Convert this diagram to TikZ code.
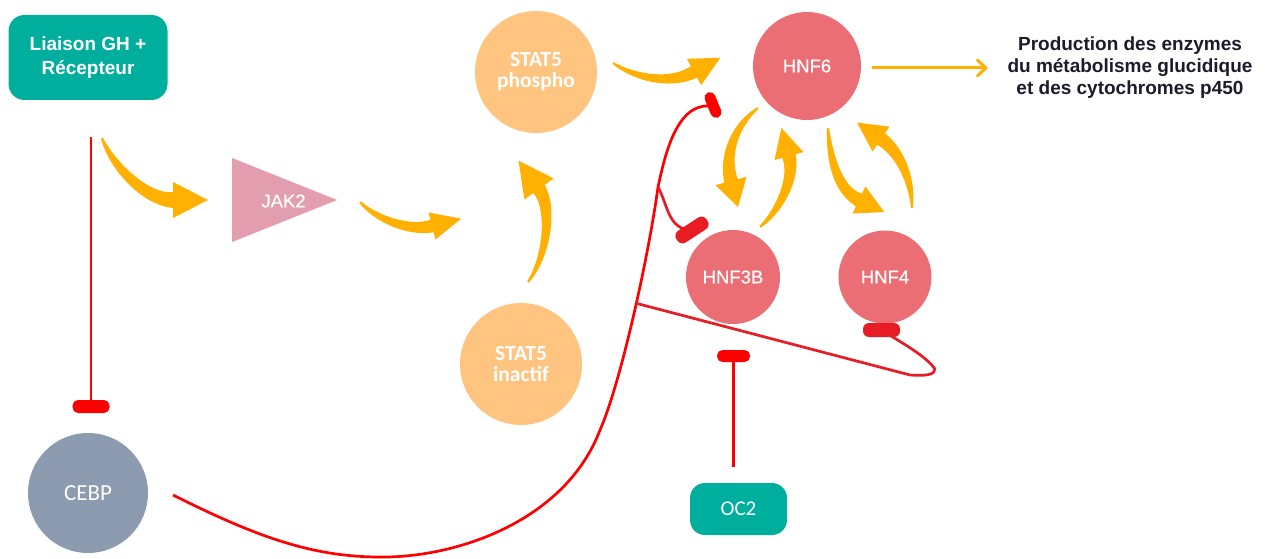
\documentclass[tikz,border=0pt]{standalone}
\usepackage{fontspec}
\setmainfont{Liberation Sans}
\newfontfamily\carl{Carlito}
\newfontfamily\semisans[FakeBold=0.6]{Liberation Sans}
\usetikzlibrary{calc,arrows.meta}
\definecolor{tealc}{HTML}{00AE9D}
\definecolor{cebpc}{HTML}{8C9BB0}
\definecolor{jakc}{HTML}{E29DAF}
\definecolor{statc}{HTML}{FFC480}
\definecolor{hnfc}{HTML}{EB6E74}
\definecolor{orc}{HTML}{FFB000}
\definecolor{redc}{HTML}{FF0000}
\definecolor{dredc}{HTML}{E81C24}
\definecolor{txtc}{HTML}{1B1B2B}
% tapered curved block arrow: S, C1, C2, B, w1, w2, w, head half width, head length
\newcommand\orarrow[9]{\fill[orc] ($(#1)!1pt!-90:(#2)$) .. controls ($(#2)!#5pt!90:(#1)$) and ($(#3)!#6pt!90:(#2)$) .. ($(#4)!#7pt!90:(#3)$) -- ($(#4)!#8pt!90:(#3)$) -- ($(#4)!-#9pt!(#3)$) -- ($(#4)!#8pt!-90:(#3)$) -- ($(#4)!#7pt!-90:(#3)$) .. controls ($(#3)!#6pt!-90:(#2)$) and ($(#2)!#5pt!-90:(#1)$) .. ($(#1)!1pt!90:(#2)$) -- cycle;}
\begin{document}
\begin{tikzpicture}[x=1pt,y=-1pt,
  bluebox/.style={fill=tealc, rounded corners=16pt, text=white, align=center, inner sep=0pt},
  ball/.style={circle, inner sep=0pt, text=white, align=center},
  inh/.style={draw=redc, line width=2.7pt},
  inhd/.style={draw=dredc, line width=2.7pt},
  tbar/.style={fill=redc, rounded corners=5.5pt, inner sep=0pt},
  tbard/.style={fill=dredc, rounded corners=6pt, inner sep=0pt},
  hnftxt/.style={font=\semisans\fontsize{18.5pt}{22pt}\selectfont},
  stattxt/.style={font=\carl\bfseries\fontsize{21.5pt}{21pt}\selectfont}
]
\useasboundingbox (0,0) rectangle (1272,559);
\fill[white] (0,0) rectangle (1272,559);

% nodes
\node[bluebox, minimum width=159pt, minimum height=85pt, font=\bfseries\fontsize{19pt}{23.5pt}\selectfont] (lia) at (88,57.5) {Liaison GH +\\Récepteur};
\node[ball, fill=cebpc, minimum size=120pt, font=\carl\fontsize{23pt}{24pt}\selectfont] (cebp) at (88,493) {CEBP};
\fill[jakc] (232,158) -- (232,242) -- (337,200) -- cycle;
\node[hnftxt, text=white] (jak) at (283.5,201) {JAK2};
\node[ball, fill=statc, minimum size=122pt, stattxt] (sp) at (536,72) {STAT5\\phospho};
\node[ball, fill=statc, minimum size=122pt, stattxt] (si) at (521,364) {STAT5\\inactif};
\node[ball, fill=hnfc, minimum size=108pt, hnftxt] (h6) at (807,66) {HNF6};
\node[ball, fill=hnfc, minimum size=94pt, hnftxt] (h3) at (733,277) {HNF3B};
\node[ball, fill=hnfc, minimum size=93pt, hnftxt] (h4) at (885,277) {HNF4};
\node[bluebox, minimum width=97pt, minimum height=52pt, rounded corners=15pt, font=\carl\fontsize{21pt}{22pt}\selectfont] (oc) at (738.5,509) {OC2};
\node[text=txtc, align=center, font=\bfseries\fontsize{19pt}{22pt}\selectfont] (prod) at (1130,68) {Production des enzymes\\du métabolisme glucidique\\et des cytochromes p450};

% orange block arrows
\orarrow{102,138}{112,165}{145,200}{173,200}{4.5}{7}{8}{18}{35}
\orarrow{360,202}{375,218}{408,232}{432,226}{3.5}{5.5}{6.5}{14}{30}
\orarrow{528,282}{548,255}{552,207}{539,189}{4}{6}{7}{18}{35}
\orarrow{613,63}{635,78}{670,85}{694,72}{3.5}{5.5}{6.5}{15}{30}
\orarrow{758,108}{735,125}{724,155}{731,181}{4}{6}{7}{16}{27}
\orarrow{760,227}{780,210}{795,178}{789,156}{4}{6}{7}{15}{29}
\orarrow{828,128}{830,160}{838,190}{859,200}{4}{6}{7}{15}{28}
\orarrow{912,208}{912,180}{900,152}{881,139}{4}{6}{7}{15}{29}

% HNF6 -> production
\coordinate (p0) at (872,68);
\coordinate (p1) at (988,68);
\draw[orc, line width=3pt, -{Straight Barb[length=9pt,width=17pt]}] (p0) -- (p1);

% inhibition bars (coordinates)
\coordinate (b1) at (91,406.5);
\coordinate (b6) at (713,105);
\coordinate (b3) at (692,230);
\coordinate (b4) at (881.5,330);
\coordinate (bo) at (733.5,356);

% red inhibition lines
\coordinate (l0) at (91,137);
\draw[inh] (l0) -- (b1);
\coordinate (c0) at (173,495);
\coordinate (c1) at (380,557);
\coordinate (c2) at (600,430);
\coordinate (c3) at (658,187);
\coordinate (c4) at (708,106);
\draw[inh] (c0) .. controls (253,535) and (310,557) .. (c1)
  .. controls (455,558) and (565,522) .. (c2)
  .. controls (620,385) and (648,260) .. (c3)
  .. controls (664,160) and (675,105) .. (c4);
\draw[inhd] (c3) .. controls (668,205) and (668,230) .. (b3);
\coordinate (d0) at (635,303);
\coordinate (d1) at (910,375);
\coordinate (d2) at (935,369);
\draw[inhd, line join=round] (d0) -- (d1) .. controls (925,376) and (935,375) .. (d2)
  .. controls (925,355) and (900,342) .. (b4);
\coordinate (o0) at (733.5,467);
\draw[inh] (o0) -- (bo);

\node[tbar, minimum width=37pt, minimum height=13pt] (bar1) at (b1) {};
\node[tbar, minimum width=27pt, minimum height=11pt, rotate=-68] (bar6) at (b6) {};
\node[tbard, minimum width=36pt, minimum height=14pt, rotate=33] (bar3) at (b3) {};
\node[tbard, minimum width=37pt, minimum height=14pt] (bar4) at (b4) {};
\node[tbar, minimum width=33pt, minimum height=12pt] (baro) at (bo) {};
\end{tikzpicture}
\end{document}
